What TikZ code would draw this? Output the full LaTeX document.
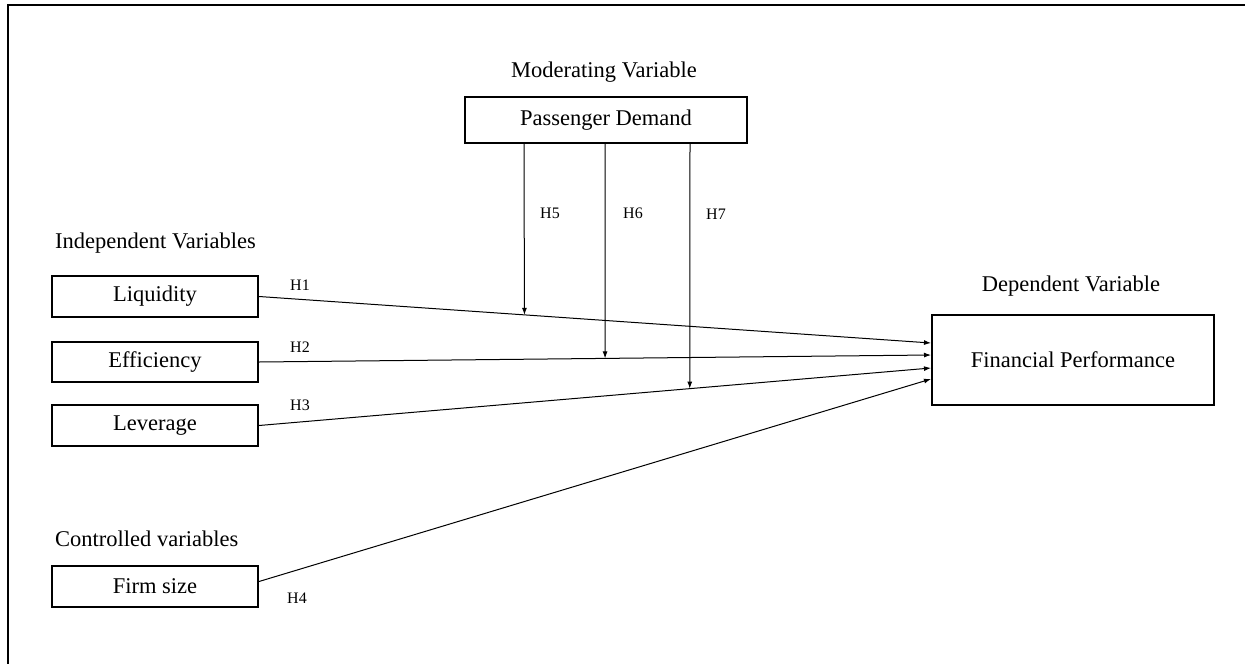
\documentclass[tikz,border=0pt]{standalone}
\usepackage{fontspec}
\setmainfont{Liberation Serif}
\usetikzlibrary{calc,arrows.meta}
\begin{document}
\begin{tikzpicture}[x=1pt,y=-1pt,
  varbox/.style={draw,line width=2pt,inner sep=0pt,minimum width=206pt,minimum height=41pt,
    font=\fontsize{22.5}{27}\selectfont},
  heading/.style={inner sep=0pt,font=\fontsize{22.5}{27}\selectfont},
  hyp/.style={inner sep=0pt,font=\fontsize{16}{19}\selectfont},
  link/.style={line width=1pt,-{Latex[length=7pt,width=5pt]}}]
\useasboundingbox (0,0) rectangle (1245,664);

% outer frame
\draw[line width=2pt] (8,664) -- (8,5) -- (1245,5);

% moderating variable
\node[heading] (modh) at (604,72) {Moderating Variable};
\node[varbox,minimum width=282pt,minimum height=46pt] (pd) at (606,120) {Passenger Demand};

% independent variables
\node[heading,anchor=west] (indh) at (55,243) {Independent Variables};
\node[varbox] (liq) at (155,296.5) {Liquidity};
\node[varbox,minimum height=40pt] (eff) at (155,362) {Efficiency};
\node[varbox] (lev) at (155,425.5) {Leverage};

% controlled variables
\node[heading,anchor=west] (ctlh) at (55,539) {Controlled variables};
\node[varbox] (firm) at (155,586.5) {Firm size};

% dependent variable
\node[heading] (deph) at (1071,286) {Dependent Variable};
\node[varbox,minimum width=282pt,minimum height=90pt] (fp) at (1073,360) {Financial Performance};

% arrow targets on the dependent box
\coordinate (t1) at ($(fp.west)+(0,-17)$);
\coordinate (t2) at ($(fp.west)+(0,-5)$);
\coordinate (t3) at ($(fp.west)+(0,8)$);
\coordinate (t4) at ($(fp.west)+(0,19)$);
\coordinate (s4) at ($(firm.east)+(0,-5)$);

% direct effects
\draw[link] (liq.east) -- coordinate[pos=0.395] (m5) (t1);
\draw[link] (eff.east) -- coordinate[pos=0.515] (m6) (t2);
\draw[link] (lev.east) -- coordinate[pos=0.641] (m7) (t3);
\draw[link] (s4) -- (t4);

% moderation effects
\coordinate (d5) at (524,0);
\coordinate (d6) at (605,0);
\coordinate (d7) at (690,0);
\draw[link] (pd.south -| d5) -- (m5);
\draw[link] (pd.south -| d6) -- (m6);
\draw[link] (pd.south -| d7) -- (m7);

% hypothesis labels
\node[hyp] (h1) at (300,285) {H1};
\node[hyp] (h2) at (300,347) {H2};
\node[hyp] (h3) at (300,405) {H3};
\node[hyp] (h4) at (297,598) {H4};
\node[hyp] (h5) at (550,213) {H5};
\node[hyp] (h6) at (633,213) {H6};
\node[hyp] (h7) at (716,214) {H7};
\end{tikzpicture}
\end{document}
